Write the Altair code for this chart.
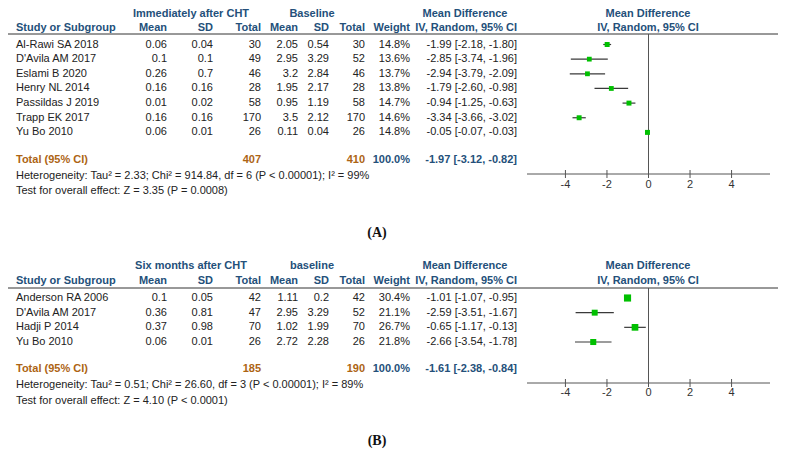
import altair as alt
import pandas as pd

# ---------------- data ----------------
# Panel A
studies_a = ["Al-Rawi SA 2018", "D'Avila AM 2017", "Eslami B 2020", "Henry NL 2014",
             "Passildas J 2019", "Trapp EK 2017", "Yu Bo 2010"]
exp_mean_a = [0.06, 0.1, 0.26, 0.16, 0.01, 0.16, 0.06]
exp_sd_a = [0.04, 0.1, 0.7, 0.16, 0.02, 0.16, 0.01]
exp_n_a = [30, 49, 46, 28, 58, 170, 26]
ctl_mean_a = [2.05, 2.95, 3.2, 1.95, 0.95, 3.5, 0.11]
ctl_sd_a = [0.54, 3.29, 2.84, 2.17, 1.19, 2.12, 0.04]
ctl_n_a = [30, 52, 46, 28, 58, 170, 26]
weight_a = [14.8, 13.6, 13.7, 13.8, 14.7, 14.6, 14.8]
md_a = [-1.99, -2.85, -2.94, -1.79, -0.94, -3.34, -0.05]
lo_a = [-2.18, -3.74, -3.79, -2.60, -1.25, -3.66, -0.07]
hi_a = [-1.80, -1.96, -2.09, -0.98, -0.63, -3.02, -0.03]
total_a = {"n_exp": 407, "n_ctl": 410, "md": -1.97, "lo": -3.12, "hi": -0.82}
het_a = "Heterogeneity: Tau\u00b2 = 2.33; Chi\u00b2 = 914.84, df = 6 (P < 0.00001); I\u00b2 = 99%"
test_a = "Test for overall effect: Z = 3.35 (P = 0.0008)"
groups_a = ["Immediately after CHT", "Baseline"]

# Panel B
studies_b = ["Anderson RA 2006", "D'Avila AM 2017", "Hadji P 2014", "Yu Bo 2010"]
exp_mean_b = [0.1, 0.36, 0.37, 0.06]
exp_sd_b = [0.05, 0.81, 0.98, 0.01]
exp_n_b = [42, 47, 70, 26]
ctl_mean_b = [1.11, 2.95, 1.02, 2.72]
ctl_sd_b = [0.2, 3.29, 1.99, 2.28]
ctl_n_b = [42, 52, 70, 26]
weight_b = [30.4, 21.1, 26.7, 21.8]
md_b = [-1.01, -2.59, -0.65, -2.66]
lo_b = [-1.07, -3.51, -1.17, -3.54]
hi_b = [-0.95, -1.67, -0.13, -1.78]
total_b = {"n_exp": 185, "n_ctl": 190, "md": -1.61, "lo": -2.38, "hi": -0.84}
het_b = "Heterogeneity: Tau\u00b2 = 0.51; Chi\u00b2 = 26.60, df = 3 (P < 0.00001); I\u00b2 = 89%"
test_b = "Test for overall effect: Z = 4.10 (P < 0.0001)"
groups_b = ["Six months after CHT", "baseline"]

tick_values = [-4, -2, 0, 2, 4]
tick_labels = ["-4", "-2", "0", "2", "4"]
col_headers = ["Mean", "SD", "Total", "Mean", "SD", "Total", "Weight", "IV, Random, 95% CI"]

# ---------------- layout ----------------
W, H = 770, 443
FONT = "Liberation Sans"
FS = 11
BLUE = "#24507a"
ORANGE = "#ad6414"
TXT = "#222222"

# columns (page pixel coordinates)
COL_STUDY = 16
COL_RIGHT = [167, 213, 261, 298, 329, 365, 410, 517]
COL_GROUP = [191, 312]
COL_MD_HEAD = 465
COL_FOREST_HEAD = 648
LINE_X = (8, 780)
FOREST_PX = (527, 770)
FOREST_DOM = (-5.85, 5.85)

LAY_A = dict(group=14, col=28, line=34, row0=44.5, step=14.65, total=160, het=176,
             test=191, axis=174, ticklab=185, tag=233)
LAY_B = dict(group=266, col=281, line=288, row0=298, step=14.67, total=369, het=385,
             test=401, axis=383, ticklab=393, tag=441)

XS = alt.Scale(domain=[8, 8 + W], range=[0, W])
YS = alt.Scale(domain=[8, 8 + H], range=[0, H])
FS_SCALE = alt.Scale(domain=list(FOREST_DOM), range=[FOREST_PX[0] - 8, FOREST_PX[1] - 8])


def fmt(v):
    return f"{v:g}"


texts = {k: [] for k in ["plain_l", "plain_r", "head_l", "head_r", "head_c",
                         "tot_l", "tot_r", "totb_r", "tag", "tick"]}
forest_ci, forest_sq, diamond, rules_px, rules_f = [], [], [], [], []


def build(L, groups, studies, em, esd, en, cm, csd, cn, w, md, lo, hi, tot, het, test, tag, pid):
    # headers
    for g, cx in zip(groups, COL_GROUP):
        texts["head_c"].append({"x": cx, "y": L["group"], "t": g})
    texts["head_c"].append({"x": COL_MD_HEAD, "y": L["group"], "t": "Mean Difference"})
    texts["head_c"].append({"x": COL_FOREST_HEAD, "y": L["group"], "t": "Mean Difference"})
    texts["head_c"].append({"x": COL_FOREST_HEAD, "y": L["col"], "t": "IV, Random, 95% CI"})
    texts["head_l"].append({"x": COL_STUDY, "y": L["col"], "t": "Study or Subgroup"})
    for h, cx in zip(col_headers, COL_RIGHT):
        texts["head_r"].append({"x": cx, "y": L["col"], "t": h})
    rules_px.append({"x": LINE_X[0], "x2": LINE_X[1], "y": L["line"], "y2": L["line"]})
    # rows
    for i, s in enumerate(studies):
        y = L["row0"] + i * L["step"]
        texts["plain_l"].append({"x": COL_STUDY, "y": y, "t": s})
        vals = [fmt(em[i]), fmt(esd[i]), str(en[i]), fmt(cm[i]), fmt(csd[i]), str(cn[i]),
                f"{w[i]:.1f}%", f"{md[i]:.2f} [{lo[i]:.2f}, {hi[i]:.2f}]"]
        for v, cx in zip(vals, COL_RIGHT):
            texts["plain_r"].append({"x": cx, "y": y, "t": v})
        forest_ci.append({"lo": lo[i], "hi": hi[i], "y": y})
        forest_sq.append({"md": md[i], "y": y, "w": w[i]})
    # total
    yt = L["total"]
    texts["tot_l"].append({"x": COL_STUDY, "y": yt, "t": "Total (95% CI)"})
    texts["tot_r"].append({"x": COL_RIGHT[2], "y": yt, "t": str(tot["n_exp"])})
    texts["tot_r"].append({"x": COL_RIGHT[5], "y": yt, "t": str(tot["n_ctl"])})
    texts["totb_r"].append({"x": COL_RIGHT[6], "y": yt, "t": "100.0%"})
    texts["totb_r"].append({"x": COL_RIGHT[7], "y": yt,
                            "t": f"{tot['md']:.2f} [{tot['lo']:.2f}, {tot['hi']:.2f}]"})
    half = 6.5
    for x, yy, yy2, o in [(tot["lo"], yt, yt, 0), (tot["md"], yt - half, yt + half, 1),
                          (tot["hi"], yt, yt, 2)]:
        diamond.append({"x": x, "y": yy, "y2": yy2, "o": o, "p": pid})
    texts["plain_l"].append({"x": COL_STUDY, "y": L["het"], "t": het})
    texts["plain_l"].append({"x": COL_STUDY, "y": L["test"], "t": test})
    texts["tag"].append({"x": 377, "y": L["tag"], "t": tag})
    # forest axis
    rules_f.append({"x": FOREST_DOM[0], "x2": FOREST_DOM[1], "y": L["axis"], "y2": L["axis"]})
    rules_f.append({"x": 0, "x2": 0, "y": L["line"], "y2": L["axis"]})
    for tv, tl in zip(tick_values, tick_labels):
        rules_f.append({"x": tv, "x2": tv, "y": L["axis"] - 4, "y2": L["axis"] + 4})
        texts["tick"].append({"x": tv, "y": L["ticklab"], "t": tl})


build(LAY_A, groups_a, studies_a, exp_mean_a, exp_sd_a, exp_n_a, ctl_mean_a, ctl_sd_a,
      ctl_n_a, weight_a, md_a, lo_a, hi_a, total_a, het_a, test_a, "(A)", "A")
build(LAY_B, groups_b, studies_b, exp_mean_b, exp_sd_b, exp_n_b, ctl_mean_b, ctl_sd_b,
      ctl_n_b, weight_b, md_b, lo_b, hi_b, total_b, het_b, test_b, "(B)", "B")


def text_layer(key, align, bold, color, xscale=XS, font=FONT, size=FS):
    df = pd.DataFrame(texts[key])
    return alt.Chart(df).mark_text(
        align=align, baseline="middle", font=font, fontSize=size,
        fontWeight="bold" if bold else "normal", color=color
    ).encode(
        x=alt.X("x:Q", scale=xscale, axis=None),
        y=alt.Y("y:Q", scale=YS, axis=None),
        text="t:N",
    )


layers = [
    alt.Chart(pd.DataFrame(rules_px)).mark_rule(color="#333333", strokeWidth=1).encode(
        x=alt.X("x:Q", scale=XS, axis=None), x2="x2:Q",
        y=alt.Y("y:Q", scale=YS, axis=None), y2="y2:Q"),
    alt.Chart(pd.DataFrame(rules_f)).mark_rule(color="#555555", strokeWidth=1).encode(
        x=alt.X("x:Q", scale=FS_SCALE, axis=None), x2="x2:Q",
        y=alt.Y("y:Q", scale=YS, axis=None), y2="y2:Q"),
    text_layer("plain_l", "left", False, TXT),
    text_layer("plain_r", "right", False, TXT),
    text_layer("head_l", "left", True, BLUE),
    text_layer("head_r", "right", True, BLUE),
    text_layer("head_c", "center", True, BLUE),
    text_layer("tot_l", "left", True, ORANGE),
    text_layer("tot_r", "right", True, ORANGE),
    text_layer("totb_r", "right", True, BLUE),
    text_layer("tag", "center", True, "#111111", font="Liberation Serif", size=14),
    text_layer("tick", "center", False, "#333333", xscale=FS_SCALE),
    alt.Chart(pd.DataFrame(forest_ci)).mark_rule(color="#3a3a3a", strokeWidth=1.2).encode(
        x=alt.X("lo:Q", scale=FS_SCALE, axis=None), x2="hi:Q",
        y=alt.Y("y:Q", scale=YS, axis=None)),
    alt.Chart(pd.DataFrame(forest_sq)).mark_square(color="#00c000", opacity=1).encode(
        x=alt.X("md:Q", scale=FS_SCALE, axis=None),
        y=alt.Y("y:Q", scale=YS, axis=None),
        size=alt.Size("w:Q", scale=alt.Scale(domain=[0, 31], range=[0, 52]), legend=None)),
    alt.Chart(pd.DataFrame(diamond)).mark_area(color="black", opacity=1).encode(
        x=alt.X("x:Q", scale=FS_SCALE, axis=None),
        y=alt.Y("y:Q", scale=YS, axis=None), y2="y2:Q",
        order="o:Q", detail="p:N"),
]

chart = alt.layer(*layers).resolve_scale(x="independent").properties(
    width=W, height=H, padding=0, autosize=alt.AutoSizeParams(type="none"),
    background="white"
).configure_view(stroke=None)

chart.save("out.html", embed_options={"renderer": "svg", "actions": False})
